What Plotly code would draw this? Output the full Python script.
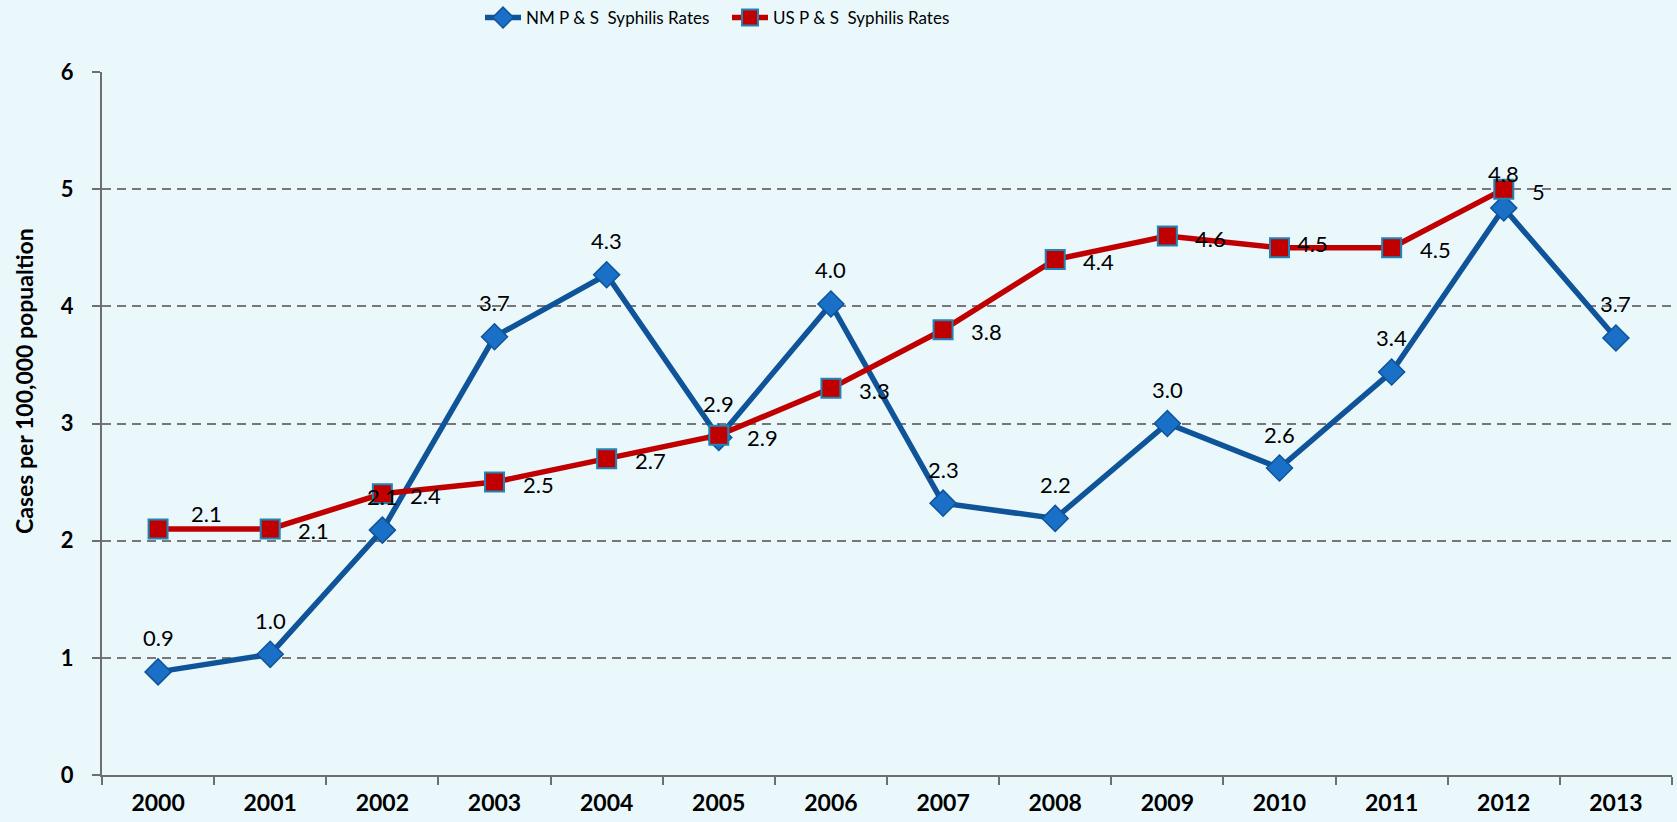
import plotly.graph_objects as go

years = ["2000", "2001", "2002", "2003", "2004", "2005", "2006",
         "2007", "2008", "2009", "2010", "2011", "2012", "2013"]
nm_rates = [0.88, 1.03, 2.09, 3.74, 4.27, 2.88, 4.02, 2.32, 2.19, 3.00, 2.62, 3.44, 4.84, 3.73]
us_rates = [2.1, 2.1, 2.4, 2.5, 2.7, 2.9, 3.3, 3.8, 4.4, 4.6, 4.5, 4.5, 5, None]
nm_name = "NM P & S  Syphilis Rates"
us_name = "US P & S  Syphilis Rates"
y_title = "Cases per 100,000 popualtion"

FONT = "Lato"
BG = "#EAF8FC"
NM_LINE = "#0F5499"
NM_FILL = "#1A6FC6"
US_LINE = "#C00000"
US_EDGE = "#2085B5"

W, H = 1677, 822
ML, MR, MT, MB = 102, 5, 72, 47

fig = go.Figure()
fig.add_trace(go.Scatter(
    x=years, y=nm_rates, name=nm_name, mode="lines+markers",
    line=dict(color=NM_LINE, width=5.5),
    marker=dict(symbol="diamond", size=20, color=NM_FILL,
                line=dict(color=NM_LINE, width=1.5)),
))
fig.add_trace(go.Scatter(
    x=years, y=us_rates, name=us_name, mode="lines+markers",
    line=dict(color=US_LINE, width=5.5),
    marker=dict(symbol="square", size=19, color=US_LINE,
                line=dict(color=US_EDGE, width=2)),
))

label_font = dict(family=FONT, size=22, color="#000000")
annotations = []
# category axis: annotation x given as the category's serial index
for i, v in enumerate(nm_rates):
    annotations.append(dict(
        x=i, y=v, xref="x", yref="y", text=f"{v:.1f}", showarrow=False,
        xanchor="center", yanchor="middle", yshift=34, font=label_font))
for i, v in enumerate(us_rates):
    if v is None:
        continue
    xs, ys = 26, -2
    if i == 0:
        xs, ys = 31, 15
    if i == 10:
        xs, ys = 15, 4
    annotations.append(dict(
        x=i, y=v, xref="x", yref="y", text=f"{v:g}", showarrow=False,
        xanchor="left", yanchor="middle", xshift=xs, yshift=ys, font=label_font))

# y-axis title (placed like the original, above the axis midpoint)
plot_w = W - ML - MR
plot_h = H - MT - MB
annotations.append(dict(
    text=y_title, textangle=-90, showarrow=False,
    xref="paper", yref="paper",
    x=(24 - ML) / plot_w, y=(H - MB - 381) / plot_h,
    xanchor="center", yanchor="middle",
    font=dict(family=FONT, size=23, color="#000000", weight="bold")))

fig.update_layout(
    width=W, height=H,
    paper_bgcolor=BG, plot_bgcolor=BG,
    margin=dict(l=ML, r=MR, t=MT, b=MB, autoexpand=False),
    font=dict(family=FONT, color="#000000"),
    showlegend=True,
    legend=dict(orientation="h", x=480 / W, xanchor="left", xref="container",
                y=1.0, yanchor="top", yref="container",
                entrywidth=196, entrywidthmode="pixels", itemwidth=36,
                font=dict(family=FONT, size=17, color="#000000"),
                bgcolor="rgba(0,0,0,0)"),
    annotations=annotations,
    xaxis=dict(
        type="category", range=[-0.5, 13.5], showgrid=False, zeroline=False,
        automargin=False,
        showline=True, linecolor="#6E6E6E", linewidth=2,
        ticks="outside", ticklen=8, tickwidth=2, tickcolor="#6E6E6E",
        tickson="boundaries", ticklabelstandoff=6,
        tickfont=dict(family=FONT, size=23, color="#000000", weight="bold"),
    ),
    yaxis=dict(
        range=[0, 6], dtick=1, tick0=0, showgrid=True, gridcolor="#777777",
        griddash="9px,6px", gridwidth=2, zeroline=False, automargin=False,
        showline=True, linecolor="#6E6E6E", linewidth=2,
        ticks="outside", ticklen=8, tickwidth=2, tickcolor="#6E6E6E",
        ticklabelstandoff=14,
        tickfont=dict(family=FONT, size=22, color="#000000", weight="bold"),
    ),
)

fig.write_html("out.html", config={"displayModeBar": False},
               post_script="document.body.style.margin='0';")
